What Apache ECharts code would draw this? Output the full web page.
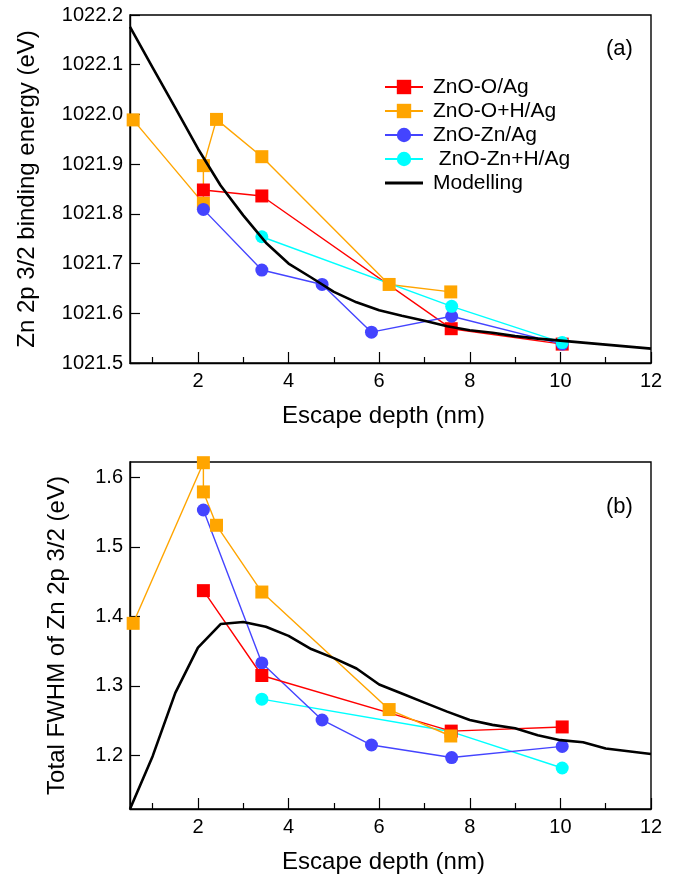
<!DOCTYPE html>
<html>
<head>
<meta charset="utf-8">
<script src="https://cdn.jsdelivr.net/npm/echarts@6/dist/echarts.min.js"></script>
<style>
  html, body { margin: 0; padding: 0; background: #fff; }
  #chart { width: 688px; height: 880px; }
</style>
</head>
<body>
<div id="chart"></div>
<script>
// Escape depths (nm) of the measured samples, one list per series
const redDepth    = [2.12, 3.41, 7.59, 10.04];
const orangeDepth = [0.57, 2.12, 2.12, 2.41, 3.41, 6.22, 7.58];
const blueDepth   = [2.12, 3.41, 4.74, 5.83, 7.60, 10.04];
const cyanDepth   = [3.41, 7.60, 10.04];

// (a) Zn 2p 3/2 binding energy (eV)
const redBE    = [1021.848, 1021.836, 1021.569, 1021.538];
const orangeBE = [1021.989, 1021.821, 1021.897, 1021.990, 1021.915, 1021.658, 1021.643];
const blueBE   = [1021.809, 1021.687, 1021.658, 1021.562, 1021.594, 1021.538];
const cyanBE   = [1021.754, 1021.614, 1021.541];

// (b) total FWHM of Zn 2p 3/2 (eV)
const redFWHM    = [1.437, 1.315, 1.235, 1.241];
const orangeFWHM = [1.390, 1.621, 1.579, 1.531, 1.435, 1.266, 1.228];
const blueFWHM   = [1.553, 1.333, 1.251, 1.215, 1.197, 1.213];
const cyanFWHM   = [1.281, 1.234, 1.182];

// Modelled curves, sampled every 0.5 nm
const modelDepth = [0.5, 1, 1.5, 2, 2.5, 3, 3.5, 4, 4.5, 5, 5.5, 6, 6.5, 7, 7.5, 8, 8.5, 9, 9.5, 10, 10.5, 11, 11.5, 12];
const modelBE = [1022.176, 1022.094, 1022.013, 1021.931, 1021.857, 1021.797, 1021.742, 1021.700,
                 1021.672, 1021.643, 1021.622, 1021.606, 1021.595, 1021.585, 1021.574, 1021.566,
                 1021.561, 1021.554, 1021.549, 1021.545, 1021.541, 1021.537, 1021.533, 1021.529];
const modelFWHM = [1.123, 1.199, 1.290, 1.355, 1.389, 1.392, 1.385, 1.372, 1.353, 1.340, 1.325, 1.302,
                   1.289, 1.276, 1.263, 1.251, 1.244, 1.239, 1.229, 1.222, 1.219, 1.210, 1.206, 1.202];

// Axis ticks
const xMajorTicks = [2, 4, 6, 8, 10, 12];
const xMinorTicks = [1, 3, 5, 7, 9, 11];
const beTicks = [1021.5, 1021.6, 1021.7, 1021.8, 1021.9, 1022.0, 1022.1, 1022.2];
const fwhmTicks = [1.2, 1.3, 1.4, 1.5, 1.6];

const seriesNames = ['ZnO-O/Ag', 'ZnO-O+H/Ag', 'ZnO-Zn/Ag', ' ZnO-Zn+H/Ag', 'Modelling'];
const colors = { red: '#ff0000', orange: '#ffa500', blue: '#4444ff', cyan: '#00ffff', model: '#000000' };

const FONT = '"Liberation Sans", Arial, Helvetica, sans-serif';
const zip = (xs, ys) => xs.map((x, i) => [x, ys[i]]);

const chart = echarts.init(document.getElementById('chart'), null, { renderer: 'canvas' });

const grids = [
  { left: 130, top: 15, width: 521, height: 348 },
  { left: 130, top: 462, width: 521, height: 347 }
];

function xAxesFor(gridIndex) {
  return [
    {
      type: 'value', gridIndex, min: 0.5, max: 12,
      name: 'Escape depth (nm)', nameLocation: 'middle', nameGap: 41,
      nameTextStyle: { fontFamily: FONT, fontSize: 24, color: '#000', padding: [0, 14, 0, 0] },
      axisLine: { show: true, onZero: false, lineStyle: { color: '#000', width: 1.4 } },
      axisTick: { show: true, inside: true, length: 11, customValues: xMajorTicks, lineStyle: { color: '#000', width: 1.2 } },
      axisLabel: { customValues: xMajorTicks, fontFamily: FONT, fontSize: 20, color: '#000', margin: 8 },
      splitLine: { show: false }
    },
    {
      type: 'value', gridIndex, min: 0.5, max: 12, position: 'bottom',
      axisLine: { show: false },
      axisTick: { show: true, inside: true, length: 6, customValues: xMinorTicks, lineStyle: { color: '#000', width: 1.2 } },
      axisLabel: { show: false },
      splitLine: { show: false }
    }
  ];
}

function yAxisFor(gridIndex, min, max, ticks, name, nameGap) {
  return {
    type: 'value', gridIndex, min, max,
    name, nameLocation: 'middle', nameGap,
    nameTextStyle: { fontFamily: FONT, fontSize: 24, color: '#000' },
    axisLine: { show: true, onZero: false, lineStyle: { color: '#000', width: 1.4 } },
    axisTick: { show: true, inside: true, length: 10, customValues: ticks, lineStyle: { color: '#000', width: 1.2 } },
    axisLabel: { customValues: ticks, fontFamily: FONT, fontSize: 20, color: '#000', margin: 7,
                 formatter: v => v.toFixed(1) },
    splitLine: { show: false }
  };
}

function dataSeries(name, color, symbol, xIdx, yIdx, xs, ys) {
  return {
    name, type: 'line', xAxisIndex: xIdx, yAxisIndex: yIdx,
    data: zip(xs, ys), symbol, symbolSize: 13,
    showSymbol: true, clip: false,
    lineStyle: { color, width: 1.4 },
    itemStyle: { color, borderWidth: 0 },
    emphasis: { disabled: true },
    animation: false
  };
}

function modelSeries(xIdx, yIdx, ys) {
  return {
    name: 'Modelling', type: 'line', xAxisIndex: xIdx, yAxisIndex: yIdx,
    data: zip(modelDepth, ys), symbol: 'none',
    lineStyle: { color: colors.model, width: 2.6 },
    itemStyle: { color: colors.model },
    emphasis: { disabled: true },
    animation: false, z: 5
  };
}

// Legend entries; the model curve is keyed by a plain line segment
const legendData = seriesNames.map(n => n === 'Modelling'
  ? { name: n, icon: 'path://M0,0L38,0L38,2.8L0,2.8Z' }
  : { name: n });

const option = {
  backgroundColor: '#ffffff',
  animation: false,
  grid: grids.map(g => Object.assign({ show: true, borderColor: '#000', borderWidth: 1.4, backgroundColor: 'transparent' }, g)),
  xAxis: [...xAxesFor(0), ...xAxesFor(1)],
  yAxis: [
    yAxisFor(0, 1021.5, 1022.2, beTicks, 'Zn 2p 3/2 binding energy (eV)', 91),
    yAxisFor(1, 1.123, 1.622, fwhmTicks, 'Total FWHM of Zn 2p 3/2 (eV)', 61)
  ],
  legend: {
    data: legendData,
    orient: 'vertical',
    left: 379, top: 71,
    itemWidth: 38, itemHeight: 18, itemGap: 2,
    symbolKeepAspect: true,
    textStyle: { fontFamily: FONT, fontSize: 21, color: '#000', lineHeight: 22, padding: [0, 0, 0, 5] },
    selectedMode: false
  },
  graphic: [
    { type: 'text', left: 606, top: 38, style: { text: '(a)', font: '22px ' + FONT, fill: '#000' } },
    { type: 'text', left: 606, top: 496, style: { text: '(b)', font: '22px ' + FONT, fill: '#000' } }
  ],
  series: [
    // panel (a)
    dataSeries(seriesNames[0], colors.red, 'rect', 0, 0, redDepth, redBE),
    dataSeries(seriesNames[1], colors.orange, 'rect', 0, 0, orangeDepth, orangeBE),
    dataSeries(seriesNames[2], colors.blue, 'circle', 0, 0, blueDepth, blueBE),
    dataSeries(seriesNames[3], colors.cyan, 'circle', 0, 0, cyanDepth, cyanBE),
    modelSeries(0, 0, modelBE),
    // panel (b)
    dataSeries(seriesNames[3], colors.cyan, 'circle', 2, 1, cyanDepth, cyanFWHM),
    dataSeries(seriesNames[2], colors.blue, 'circle', 2, 1, blueDepth, blueFWHM),
    dataSeries(seriesNames[0], colors.red, 'rect', 2, 1, redDepth, redFWHM),
    dataSeries(seriesNames[1], colors.orange, 'rect', 2, 1, orangeDepth, orangeFWHM),
    modelSeries(2, 1, modelFWHM)
  ]
};

chart.setOption(option);
</script>
</body>
</html>
